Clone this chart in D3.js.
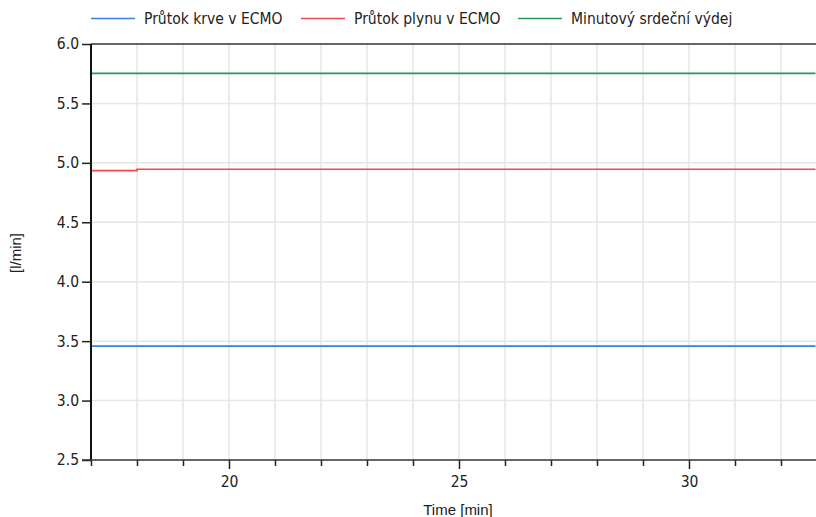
<!DOCTYPE html>
<html>
<head>
<meta charset="utf-8">
<script src="https://cdn.jsdelivr.net/npm/d3@7"></script>
<style>
  html, body { margin: 0; padding: 0; background: #fff; }
  svg { display: block; font-family: "Liberation Sans", Arial, sans-serif; }
</style>
</head>
<body>
<svg id="chart" width="816" height="517"></svg>
<script>
// Simulation time [min] and the three flow signals [l/min]
const time      = [17, 18, 18, 32.75];
const bloodFlow = [3.458, 3.458, 3.458, 3.458];
const gasFlow   = [4.935, 4.935, 4.946, 4.946];
const cardiacOutput = [5.753, 5.753, 5.753, 5.753];

const seriesNames  = ["Průtok krve v ECMO", "Průtok plynu v ECMO", "Minutový srdeční výdej"];
const seriesColors = ["#3b7fdd", "#ee4a4a", "#249a5a"];
const seriesValues = [bloodFlow, gasFlow, cardiacOutput];

const yTicks = [2.5, 3.0, 3.5, 4.0, 4.5, 5.0, 5.5, 6.0];
const xMajorTicks = [20, 25, 30];
const xMinorTicks = [17, 18, 19, 21, 22, 23, 24, 26, 27, 28, 29, 31, 32];
const xGrid = [18, 19, 20, 21, 22, 23, 24, 25, 26, 27, 28, 29, 30, 31, 32];

const svg = d3.select("#chart");
const plotLeft = 91, plotRight = 815.5, plotTop = 44, plotBottom = 460;
const fontSize = 15;
const uiFont = "'DejaVu Sans Condensed', 'DejaVu Sans', sans-serif";
const uiFontSize = 15.5;
const textColor = "#222";

const x = d3.scaleLinear().domain([17, 32.75]).range([plotLeft, plotRight]);
const y = d3.scaleLinear().domain([2.5, 6.0]).range([plotBottom, plotTop]);

// grid
const grid = svg.append("g").attr("stroke", "#e6e6e6").attr("stroke-width", 1.5);
grid.selectAll("line.v").data(xGrid).join("line").attr("class", "v")
  .attr("x1", d => x(d)).attr("x2", d => x(d))
  .attr("y1", plotTop).attr("y2", plotBottom);
grid.selectAll("line.h").data(yTicks.slice(1, -1)).join("line").attr("class", "h")
  .attr("x1", plotLeft).attr("x2", 816)
  .attr("y1", d => y(d)).attr("y2", d => y(d));

// top frame
svg.append("line")
  .attr("x1", plotLeft).attr("x2", 816).attr("y1", plotTop).attr("y2", plotTop)
  .attr("stroke", "#333").attr("stroke-width", 1.5);

// series
const line = d3.line().x((d, i) => x(time[i])).y(d => y(d));
seriesValues.forEach((vals, k) => {
  svg.append("path")
    .attr("d", line(vals))
    .attr("fill", "none")
    .attr("stroke", seriesColors[k])
    .attr("stroke-width", 1.6);
});

// y axis
const yAxis = d3.axisLeft(y).tickValues(yTicks).tickFormat(d3.format(".1f"))
  .tickSize(9).tickPadding(3);
const gy = svg.append("g").attr("transform", `translate(${plotLeft},0)`).call(yAxis);
gy.select(".domain").remove();
gy.selectAll(".tick line").attr("stroke", "#222").attr("stroke-width", 1.5);
gy.selectAll(".tick text").attr("fill", textColor).attr("font-size", uiFontSize)
  .attr("font-family", uiFont);

// x axis: major and minor ticks
const xAxisMajor = d3.axisBottom(x).tickValues(xMajorTicks).tickFormat(d3.format("d"))
  .tickSize(9);
const gx = svg.append("g").attr("transform", `translate(0,${plotBottom})`).call(xAxisMajor);
gx.select(".domain").remove();
gx.selectAll(".tick line").attr("stroke", "#222").attr("stroke-width", 1.5);
gx.selectAll(".tick text").attr("fill", textColor).attr("font-size", uiFontSize)
  .attr("font-family", uiFont)
  .attr("y", 27).attr("dy", 0);

const xAxisMinor = d3.axisBottom(x).tickValues(xMinorTicks).tickFormat("").tickSize(6);
const gxm = svg.append("g").attr("transform", `translate(0,${plotBottom})`).call(xAxisMinor);
gxm.select(".domain").remove();
gxm.selectAll(".tick line").attr("stroke", "#222").attr("stroke-width", 1.5);

// axis lines
svg.append("line").attr("x1", plotLeft).attr("x2", plotLeft).attr("y1", plotTop).attr("y2", plotBottom)
  .attr("stroke", "#111").attr("stroke-width", 2);
svg.append("line").attr("x1", 82).attr("x2", 816).attr("y1", plotBottom).attr("y2", plotBottom)
  .attr("stroke", "#333").attr("stroke-width", 1.5);

// axis titles
svg.append("text").attr("x", 458).attr("y", 515).attr("text-anchor", "middle")
  .attr("font-size", fontSize).attr("fill", textColor).text("Time [min]");
svg.append("text").attr("transform", "translate(21,253) rotate(-90)")
  .attr("text-anchor", "middle").attr("font-size", fontSize).attr("fill", textColor).text("[l/min]");

// legend
const legendX = [91, 301, 518];
const lg = svg.append("g");
seriesNames.forEach((name, k) => {
  lg.append("line").attr("x1", legendX[k]).attr("x2", legendX[k] + 44)
    .attr("y1", 18.5).attr("y2", 18.5)
    .attr("stroke", seriesColors[k]).attr("stroke-width", 1.6);
  lg.append("text").attr("x", legendX[k] + 53).attr("y", 24)
    .attr("font-family", uiFont)
    .attr("font-size", uiFontSize).attr("fill", textColor).text(name);
});
</script>
</body>
</html>
